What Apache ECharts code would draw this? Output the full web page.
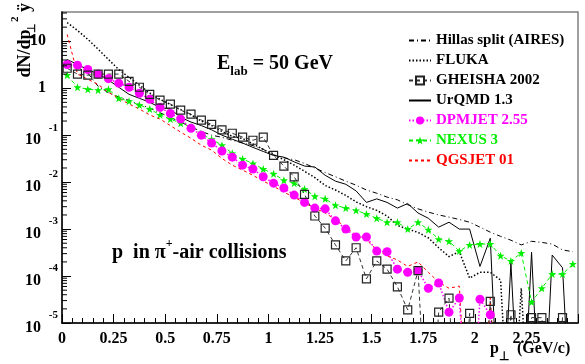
<!DOCTYPE html>
<html>
<head>
<meta charset="utf-8">
<script src="https://cdn.jsdelivr.net/npm/echarts@6/dist/echarts.min.js"></script>
<style>
  html, body { margin: 0; padding: 0; background: #fff; }
  #chart { width: 585px; height: 364px; }
</style>
</head>
<body>
<div id="chart"></div>
<script>
// bin centres, 0.05 GeV/c wide bins
const ptBins = Array.from({ length: 50 }, (_, i) => +(0.025 + 0.05 * i).toFixed(3));

// dN/dpT^2 dy (0 = empty bin)
const hillas = [3.8, 2.8, 2.1, 1.1, 0.8, 0.65, 0.55, 0.45, 0.38, 0.3,
  0.24, 0.19, 0.15, 0.12, 0.1, 0.09, 0.078, 0.068, 0.06, 0.05,
  0.038, 0.033, 0.03, 0.025, 0.02, 0.016, 0.013, 0.0105, 0.0086, 0.0068,
  0.0058, 0.0048, 0.0042, 0.0033, 0.0027, 0.0023, 0.002, 0.0018, 0.0016, 0.0014,
  0.0011, 0.00086, 0.0007, 0.00058, 0.00046, 0.00055, 0.00052, 0.00048, 0.00036, 0.00033];
const fluka = [25, 17, 11, 6.8, 4.1, 2.5, 1.7, 1.16, 0.8, 0.58,
  0.45, 0.35, 0.27, 0.2, 0.16, 0.12, 0.095, 0.085, 0.065, 0.05,
  0.038, 0.03, 0.023, 0.017, 0.0125, 0.0085, 0.0068, 0.0052, 0.0038, 0.003,
  0.0025, 0.0019, 0.0012, 0.001, 0.00085, 0.00065, 0.0004, 0.00026, 0.00033, 0.00009,
  0.00012, 0.00012, 0.000082, 0, 0.000055, 0, 0, 0, 0, 0];
const gheisha = [2.66, 2.0, 1.9, 2.0, 2.0, 2.0, 1.4, 1.05, 0.74, 0.56,
  0.46, 0.34, 0.28, 0.21, 0.17, 0.13, 0.11, 0.091, 0.078, 0.091,
  0.037, 0.022, 0.013, 0.0055, 0.0019, 0.00105, 0.00046, 0.00021, 0.0004, 0.000087,
  0.00021, 0.00014, 0.000059, 0.000019, 0.00013, 0, 0.000017, 0.000034, 0, 0.000016,
  0, 0.000029, 0, 0.000015, 0, 0.000013, 0.000013, 0, 0.000013, 0];
const urqmd = [4.1, 3.2, 2.5, 2.0, 1.5, 1.05, 0.74, 0.61, 0.5, 0.39,
  0.36, 0.24, 0.19, 0.16, 0.13, 0.1, 0.082, 0.068, 0.055, 0.045,
  0.037, 0.034, 0.027, 0.022, 0.021, 0.014, 0.0105, 0.009, 0.0065, 0.0037,
  0.0044, 0.0037, 0.0028, 0.0035, 0.0022, 0.0017, 0.0011, 0.0014, 0.001, 0.001,
  0.00016, 0.00064, 0, 0.00019, 0, 0.00032, 0, 0.00028, 0.00015, 0];
const dpmjet = [3.2, 3.1, 2.5, 2.0, 1.6, 1.28, 1.05, 0.78, 0.58, 0.39,
  0.29, 0.22, 0.14, 0.1, 0.068, 0.046, 0.034, 0.023, 0.019, 0.013,
  0.0095, 0.0075, 0.0053, 0.0037, 0.0028, 0.0027, 0.0015, 0.001, 0.00068, 0.00068,
  0.00034, 0.00033, 0.00014, 0.00012, 0.00013, 0.000055, 0.000071, 0.000017, 0.000034, 0,
  0.000032, 0.000015, 0, 0, 0, 0, 0, 0, 0, 0];
const nexus = [1.9, 1.05, 0.95, 0.91, 0.95, 0.61, 0.53, 0.44, 0.36, 0.27,
  0.22, 0.18, 0.15, 0.105, 0.082, 0.061, 0.041, 0.031, 0.025, 0.019,
  0.015, 0.011, 0.0095, 0.0071, 0.005, 0.0044, 0.0032, 0.0028, 0.0025, 0.0021,
  0.0017, 0.0014, 0.0014, 0.001, 0.0014, 0.00097, 0.00061, 0.00055, 0.00034, 0.00046,
  0.00048, 0.00048, 0.00027, 0.00021, 0.00031, 0.000028, 0.000055, 0.00011, 0.00011, 0.00018];
const qgsjet = [14, 2.0, 1.55, 1.2, 0.82, 0.61, 0.46, 0.36, 0.27, 0.22,
  0.16, 0.116, 0.086, 0.061, 0.048, 0.032, 0.023, 0.018, 0.014, 0.0105,
  0.0082, 0.0061, 0.0048, 0.0036, 0.0028, 0.0022, 0.0016, 0.0011, 0.00074, 0.00059,
  0.00036, 0.00027, 0.00022, 0.00016, 0.0002, 0.00012, 0.000074, 0.000055, 0.000061, 0,
  0, 0.000034, 0, 0, 0, 0, 0, 0, 0, 0];

const xTicks = [0, 0.25, 0.5, 0.75, 1, 1.25, 1.5, 1.75, 2, 2.25];
const yMin = 1e-5, yMax = 42;

const serif = 'Liberation Serif';
const star = 'path://M0,-10L2.35,-3.24L9.51,-3.09L3.8,1.24L5.88,8.09L0,4L-5.88,8.09L-3.8,1.24L-9.51,-3.09L-2.35,-3.24Z';

// empty bins: ROOT drops the line down out of the frame
function pts(arr) {
  return arr.map((v, i) => [ptBins[i], v > 0 ? v : 1e-8]);
}

// log minor ticks 2..9 x 10^n
const yMinor = [];
for (let e = -5; e <= 1; e++) {
  for (let m = 2; m <= 9; m++) {
    const v = m * Math.pow(10, e);
    if (v < yMax) yMinor.push([0, v]);
  }
}

const noMarker = { opacity: 0 };

const chart = echarts.init(document.getElementById('chart'));
chart.setOption({
  animation: false,
  grid: { left: 62, right: 7, top: 12, bottom: 41, show: true, borderColor: '#808080', borderWidth: 1.5 },
  legend: {
    orient: 'vertical',
    left: 403,
    top: 28,
    itemWidth: 22,
    itemHeight: 10,
    itemGap: 5,
    textStyle: { fontFamily: serif, fontWeight: 'bold', fontSize: 15, color: '#000', lineHeight: 15 },
    data: [
      { name: 'Hillas split (AIRES)', itemStyle: noMarker },
      { name: 'FLUKA', itemStyle: noMarker },
      { name: 'GHEISHA 2002' },
      { name: 'UrQMD 1.3', itemStyle: noMarker },
      { name: 'DPMJET 2.55', textStyle: { color: '#ff00ff' } },
      { name: 'NEXUS 3', textStyle: { color: '#00ee00' } },
      { name: 'QGSJET 01', itemStyle: noMarker, textStyle: { color: '#ff0000' } }
    ]
  },
  xAxis: {
    type: 'value',
    min: 0,
    max: 2.5,
    interval: 0.25,
    axisLine: { lineStyle: { color: '#000', width: 1.5 } },
    axisTick: { inside: true, length: 9, lineStyle: { color: '#000' } },
    minorTick: { show: true, splitNumber: 5, length: 5, lineStyle: { color: '#000' } },
    splitLine: { show: false },
    axisLabel: {
      margin: 8,
      fontFamily: serif, fontWeight: 'bold', fontSize: 16, color: '#000',
      formatter: v => (xTicks.indexOf(v) >= 0 ? String(v) : '')
    }
  },
  yAxis: {
    type: 'log',
    logBase: 10,
    min: yMin,
    max: yMax,
    interval: 1,
    axisLine: { lineStyle: { color: '#000', width: 1.5 } },
    axisTick: { inside: true, length: 9, lineStyle: { color: '#000' } },
    splitLine: { show: false },
    axisLabel: {
      margin: 4,
      showMaxLabel: false,
      formatter: v => {
        const e = Math.round(Math.log10(v));
        if (Math.abs(Math.log10(v) - e) > 1e-6) return '';
        if (e === 0) return '{c|1}{z| }';
        if (e === 1) return '{c|10}{z| }';
        return '{b|10}{e|' + e + '}';
      },
      rich: {
        b: { fontFamily: serif, fontWeight: 'bold', fontSize: 16, lineHeight: 36, padding: [9, 0, 0, 0], color: '#000' },
        e: { fontFamily: serif, fontWeight: 'bold', fontSize: 11, lineHeight: 11, verticalAlign: 'top', padding: [5, 0, 29, 6], color: '#000', width: 11 },
        c: { fontFamily: serif, fontWeight: 'bold', fontSize: 16, lineHeight: 16, color: '#000' },
        z: { fontSize: 11, lineHeight: 11, width: 12 }
      }
    }
  },
  graphic: [
    {
      type: 'text', x: 217, y: 54,
      style: {
        text: '{a|E}{s|lab}{a| = 50 GeV}',
        rich: {
          a: { fontFamily: serif, fontWeight: 'bold', fontSize: 20, lineHeight: 20, verticalAlign: 'top', fill: '#000' },
          s: { fontFamily: serif, fontWeight: 'bold', fontSize: 13, lineHeight: 13, verticalAlign: 'top', padding: [11, 0, 0, 0], fill: '#000' }
        }
      }
    },
    {
      type: 'text', x: 112, y: 238,
      style: {
        text: '{a|p  in π}{p|+}{a|-air collisions}',
        rich: {
          a: { fontFamily: serif, fontWeight: 'bold', fontSize: 20, lineHeight: 20, verticalAlign: 'top', padding: [5, 0, 0, 0], fill: '#000' },
          p: { fontFamily: serif, fontWeight: 'bold', fontSize: 12, lineHeight: 12, verticalAlign: 'top', fill: '#000' }
        }
      }
    },
    {
      type: 'text', x: 490, y: 341,
      style: {
        text: '{a|p}{s|⊥}{a| (GeV/c)}',
        rich: {
          a: { fontFamily: serif, fontWeight: 'bold', fontSize: 16, lineHeight: 16, verticalAlign: 'top', fill: '#000' },
          s: { fontFamily: serif, fontWeight: 'bold', fontSize: 12, lineHeight: 12, verticalAlign: 'top', padding: [10, 4, 0, 0], fill: '#000' }
        }
      }
    },
    {
      type: 'text', x: 19, y: 3, rotation: Math.PI / 2,
      style: {
        text: '{a|dN/dp}{s|⊥}{p|2}{a| ÿ}',
        align: 'right',
        verticalAlign: 'middle',
        rich: {
          a: { fontFamily: serif, fontWeight: 'bold', fontSize: 18, lineHeight: 18, verticalAlign: 'top', padding: [6, 0, 0, 0], fill: '#000' },
          s: { fontFamily: serif, fontWeight: 'bold', fontSize: 11, lineHeight: 11, verticalAlign: 'top', padding: [17, 0, 0, 0], width: 7, fill: '#000' },
          p: { fontFamily: serif, fontWeight: 'bold', fontSize: 11, lineHeight: 11, verticalAlign: 'top', width: 6, fill: '#000' }
        }
      }
    }
  ],
  series: [
    {
      type: 'custom', silent: true, z: 5, data: yMinor,
      renderItem: (params, api) => {
        const p = api.coord([0, api.value(1)]);
        return { type: 'line', shape: { x1: p[0], y1: p[1], x2: p[0] + 5, y2: p[1] }, style: { stroke: '#000', lineWidth: 1 } };
      }
    },
    {
      name: 'Hillas split (AIRES)', type: 'line', data: pts(hillas), symbol: 'none',
      lineStyle: { color: '#000', width: 1, type: [5, 3, 1, 3] }, itemStyle: { color: '#000' }
    },
    {
      name: 'FLUKA', type: 'line', data: pts(fluka), symbol: 'none',
      lineStyle: { color: '#000', width: 1.5, type: [1.5, 2] }, itemStyle: { color: '#000' }
    },
    {
      name: 'UrQMD 1.3', type: 'line', data: pts(urqmd), symbol: 'none',
      lineStyle: { color: '#000', width: 1 }, itemStyle: { color: '#000' }
    },
    {
      name: 'QGSJET 01', type: 'line', data: pts(qgsjet), symbol: 'none',
      lineStyle: { color: '#ff0000', width: 1, type: [3, 3] }, itemStyle: { color: '#ff0000' }
    },
    {
      name: 'NEXUS 3', type: 'line', data: pts(nexus), symbol: star, symbolSize: 8,
      lineStyle: { color: '#00ee00', width: 1, type: [4, 3] }, itemStyle: { color: '#00ee00' }
    },
    {
      name: 'DPMJET 2.55', type: 'line', data: pts(dpmjet), symbol: 'circle', symbolSize: 9,
      lineStyle: { color: '#ff00ff', width: 1.5, type: [1.5, 2] }, itemStyle: { color: '#ff00ff' }
    },
    {
      name: 'GHEISHA 2002', type: 'line', data: pts(gheisha), symbol: 'rect', symbolSize: 8,
      lineStyle: { color: '#333', width: 1, type: [4, 3] },
      itemStyle: { color: 'rgba(255,255,255,0)', borderColor: '#222', borderWidth: 1.2 }
    }
  ]
});
</script>
</body>
</html>
